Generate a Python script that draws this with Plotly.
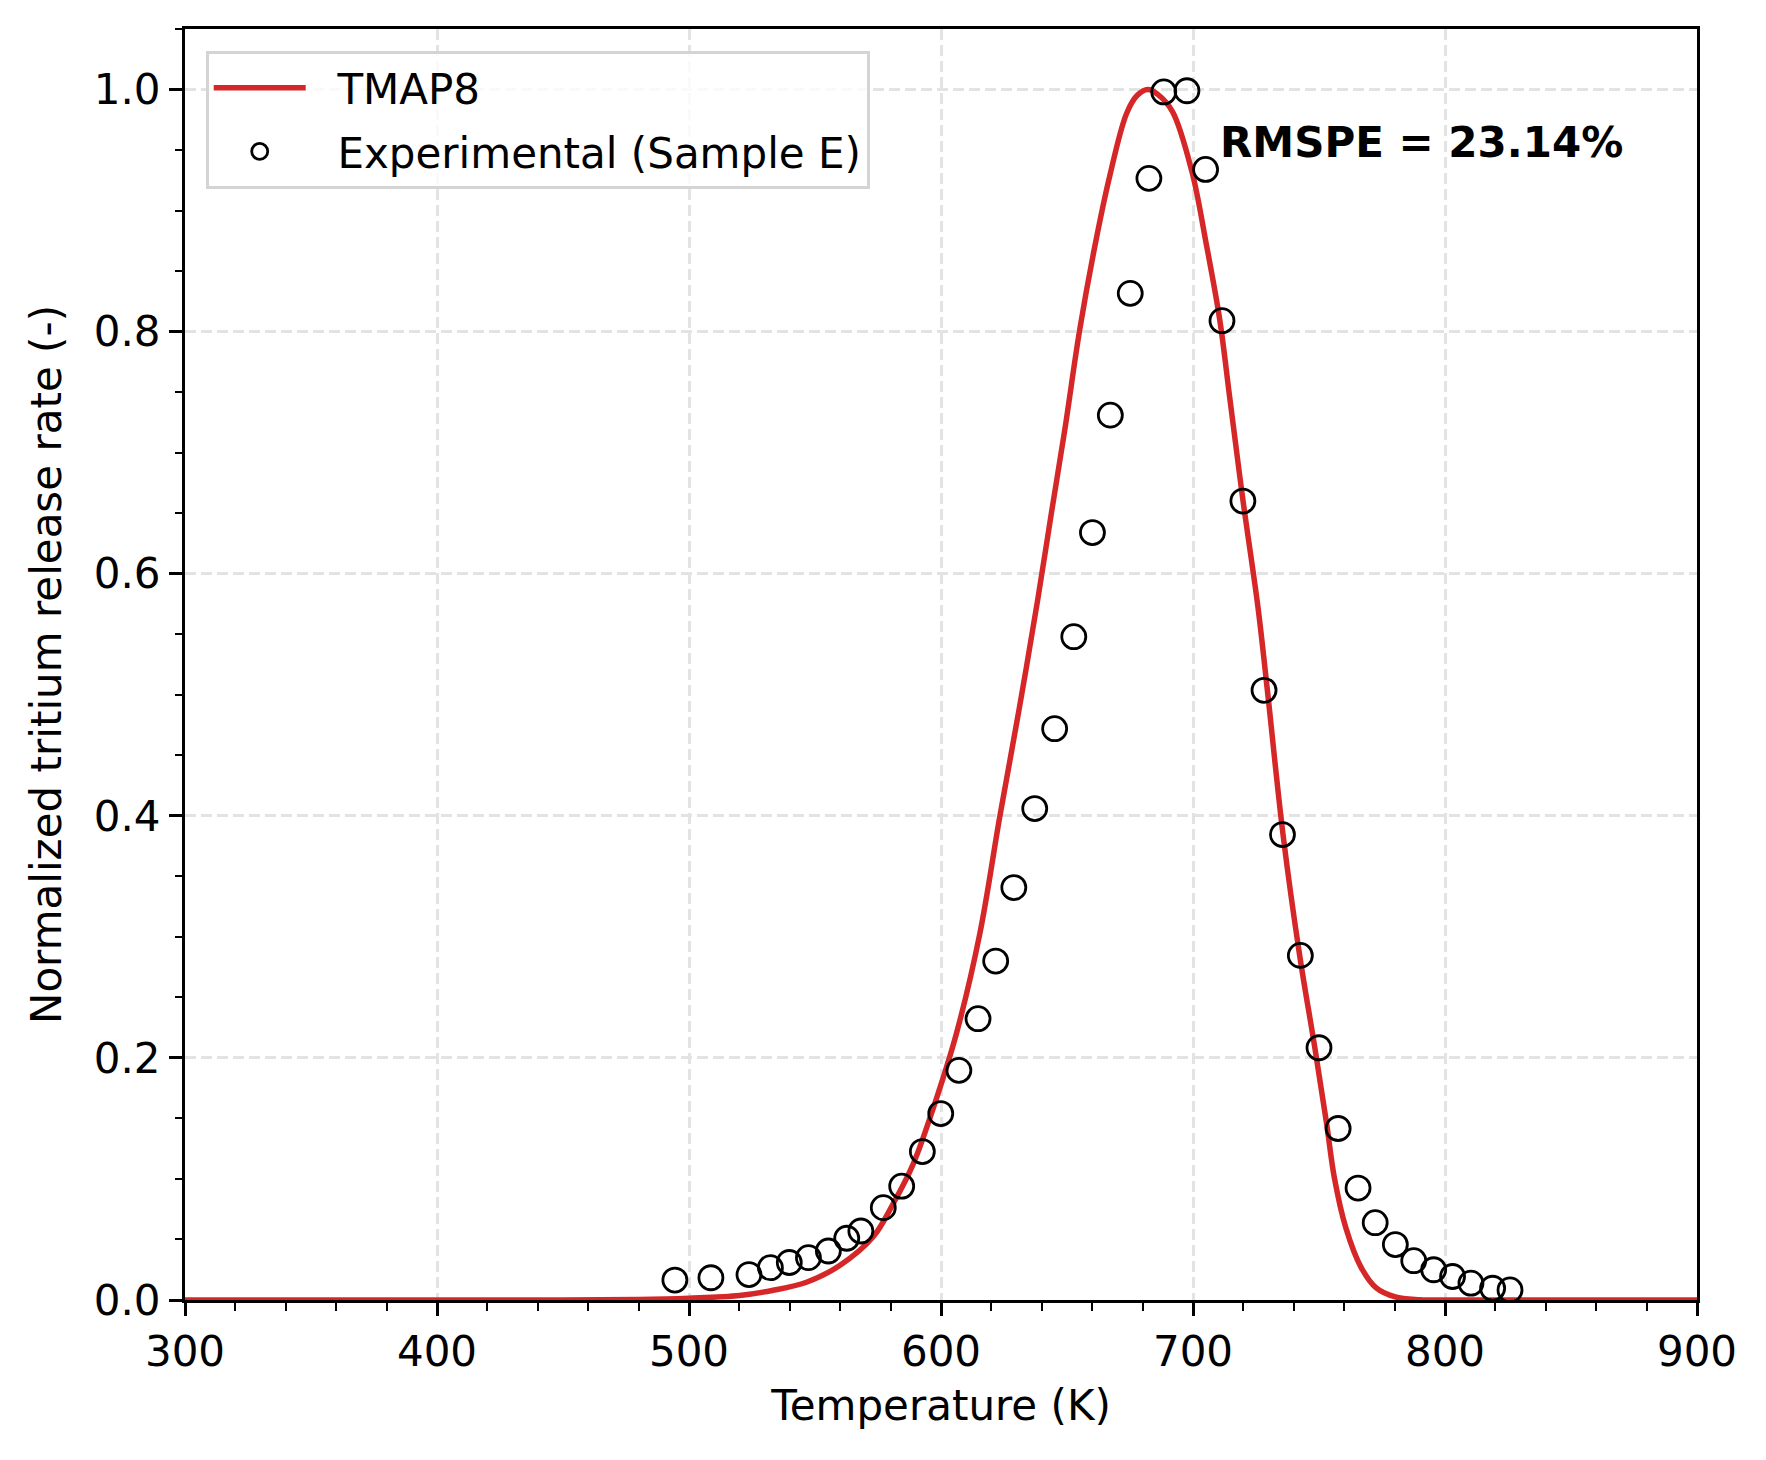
import plotly.graph_objects as go

# ---- data ----
T_exp = [494.4, 508.7, 523.8, 532.3, 539.8, 547.4, 555.3, 562.6, 568.2, 577.1,
         584.4, 592.6, 599.9, 607.1, 614.7, 621.7, 628.9, 637.2, 645.1, 652.7,
         660.1, 667.2, 675.1, 682.5, 688.4, 697.6, 705.0, 711.5, 719.8, 728.2,
         735.5, 742.6, 750.0, 757.6, 765.5, 772.3, 780.3, 787.6, 795.5, 803.0,
         810.3, 818.9, 825.8]
y_exp = [0.0165, 0.0184, 0.021, 0.0267, 0.031, 0.035, 0.0405, 0.051, 0.057, 0.0763,
         0.094, 0.1226, 0.154, 0.1897, 0.2324, 0.280, 0.3407, 0.406, 0.472, 0.548,
         0.634, 0.731, 0.8316, 0.9266, 0.998, 0.999, 0.934, 0.809, 0.660, 0.5037,
         0.3845, 0.2847, 0.2084, 0.1417, 0.0925, 0.0639, 0.0458, 0.0325, 0.025, 0.0194,
         0.0139, 0.0097, 0.0083]

T_sim = [300, 400, 450, 480, 500, 520, 533, 546.6, 559.8, 573,
         581, 589, 597, 606.1, 615.4, 623.3, 631, 638.5, 643.8, 649.1,
         655, 661, 666.9, 673.6, 677.8, 682.1, 686, 691.8, 699.6, 705.3,
         710.6, 714.6, 719.8, 725.8, 729.5, 735.7, 742.3, 748.3, 753, 756.1,
         760.6, 766.7, 772.7, 780.3, 790, 800, 900]
y_sim = [0, 0, 0, 0.0004, 0.0015, 0.0037, 0.0079, 0.0147, 0.0285, 0.052,
         0.0795, 0.1125, 0.159, 0.220, 0.3026, 0.399, 0.488, 0.58, 0.650, 0.7186,
         0.801, 0.870, 0.928, 0.980, 0.995, 1.0, 0.996, 0.982, 0.932, 0.872,
         0.810, 0.745, 0.661, 0.572, 0.504, 0.385, 0.285, 0.209, 0.146, 0.101,
         0.060, 0.027, 0.010, 0.0025, 0.0003, 0, 0]

x_ticks = [300, 400, 500, 600, 700, 800, 900]
y_ticks = [0.0, 0.2, 0.4, 0.6, 0.8, 1.0]
series_names = ["TMAP8", "Experimental (Sample E)"]
rmspe_label = "RMSPE = 23.14%"

FONT = "DejaVu Sans"
FS = 42
PAD = "\u00a0\u00a0"  # visual gap between legend symbol and label

fig = go.Figure()
fig.add_trace(go.Scatter(
    x=T_sim, y=y_sim, mode="lines", name=PAD + series_names[0], legendgroup="a",
    line=dict(color="#d62728", width=5.5, shape="spline", smoothing=1.0),
))
fig.add_trace(go.Scatter(
    x=T_exp, y=y_exp, mode="markers", name=PAD + series_names[1], legendgroup="b",
    marker=dict(symbol="circle", size=24, color="rgba(0,0,0,0)",
                line=dict(color="black", width=2.8)),
))

fig.add_annotation(
    x=710.0, y=0.956, xref="x", yref="y", text="<b>" + rmspe_label + "</b>",
    showarrow=False, xanchor="left", yanchor="middle",
    font=dict(family=FONT, size=FS, color="black"),
)

axis_common = dict(
    showline=True, linecolor="black", linewidth=3, mirror=True,
    ticks="outside", ticklen=13, tickwidth=3, tickcolor="black",
    showgrid=True, gridcolor="#e3e3e3", gridwidth=2.5, griddash="11px,5px",
    zeroline=False, layer="below traces",
    tickfont=dict(family=FONT, size=FS, color="black"),
)

fig.update_xaxes(
    range=[300, 900], tickvals=x_ticks, ticktext=[str(v) for v in x_ticks],
    minor=dict(dtick=20, ticklen=7.5, tickwidth=2.2, tickcolor="black", ticks="outside", showgrid=False),
    title=dict(text="Temperature (K)", font=dict(family=FONT, size=FS, color="black"), standoff=16),
    **axis_common,
)
fig.update_yaxes(
    range=[0, 1.05], tickvals=y_ticks, ticktext=[f"{v:.1f}" for v in y_ticks],
    minor=dict(dtick=0.05, ticklen=7.5, tickwidth=2.2, tickcolor="black", ticks="outside", showgrid=False),
    title=dict(text="Normalized tritium release rate (-)", font=dict(family=FONT, size=FS, color="black"), standoff=20),
    **axis_common,
)

fig.update_layout(
    width=1766, height=1460,
    margin=dict(l=185, r=69, t=29, b=160, autoexpand=False),
    plot_bgcolor="white", paper_bgcolor="white",
    font=dict(family=FONT, size=FS, color="black"),
    showlegend=True,
    legend=dict(
        x=0.0137, y=0.9827, xanchor="left", yanchor="top",
        bgcolor="rgba(255,255,255,0.8)", bordercolor="#d4d4d4", borderwidth=3,
        font=dict(family=FONT, size=FS, color="black"),
        itemwidth=92, tracegroupgap=6, traceorder="grouped",
    ),
)

fig.write_html("out.html")
